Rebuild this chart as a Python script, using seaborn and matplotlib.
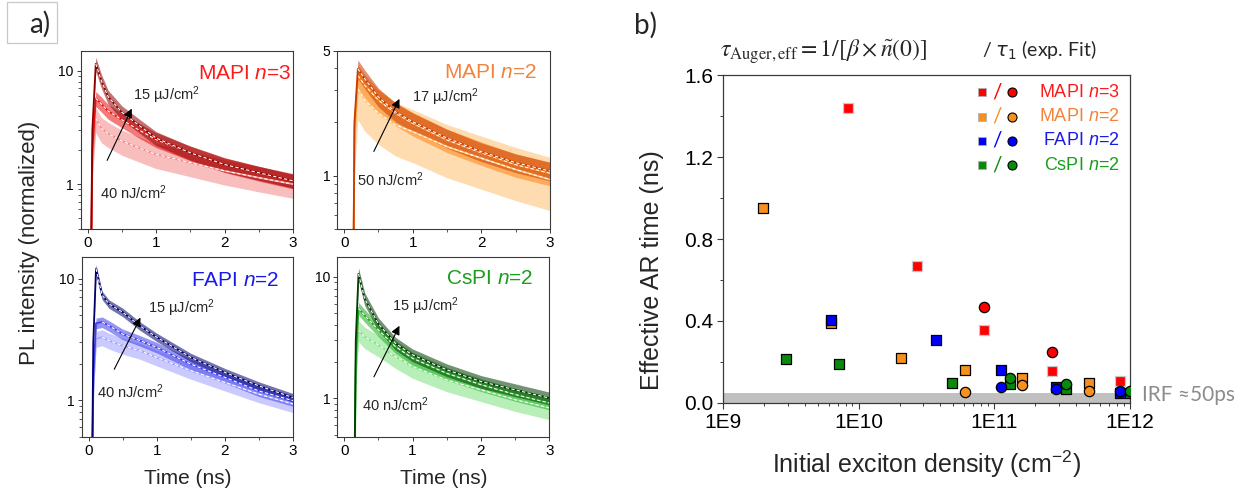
import matplotlib
matplotlib.use('Agg')
import matplotlib.pyplot as plt
import matplotlib.ticker as mticker
from matplotlib.patches import Rectangle
from matplotlib.lines import Line2D
import numpy as np
import pandas as pd
import seaborn as sns

# ---- panel a: PL decays (normalized) ----
T_MAPI3 = [-0.1, 0.04, 0.07, 0.12, 0.2, 0.3, 0.5, 0.75, 1.0, 1.5, 2.0, 2.5, 3.0]
MAPI3_HIGH = [0.05, 0.05, 3.0, 11.5, 8.2, 5.9, 4.3, 3.3, 2.55, 1.89, 1.49, 1.26, 1.07]
MAPI3_MID = [0.05, 0.05, 2.0, 5.7, 5.1, 4.4, 3.7, 3.0, 2.47, 1.89, 1.49, 1.25, 1.07]
MAPI3_LOW = [0.05, 0.05, 1.5, 3.8, 3.1, 2.8, 2.4, 2.09, 1.83, 1.55, 1.31, 1.14, 1.0]

T_MAPI2 = [-0.1, 0.12, 0.15, 0.2, 0.3, 0.5, 0.75, 1.0, 1.5, 2.0, 2.5, 3.0]
MAPI2_HIGH = [0.05, 0.05, 2.0, 3.96, 3.48, 2.75, 2.27, 2.0, 1.62, 1.36, 1.18, 1.06]
MAPI2_MID = [0.05, 0.05, 1.8, 3.63, 3.2, 2.64, 2.23, 1.96, 1.58, 1.34, 1.15, 1.03]
MAPI2_LOW = [0.05, 0.05, 1.5, 3.06, 2.64, 2.23, 1.92, 1.76, 1.45, 1.25, 1.08, 0.95]

T_FAPI = [-0.1, 0.04, 0.07, 0.11, 0.2, 0.3, 0.5, 0.75, 1.0, 1.5, 2.0, 2.5, 3.0]
FAPI_HIGH = [0.05, 0.05, 3.0, 12.1, 7.3, 6.2, 5.3, 4.1, 3.3, 2.25, 1.69, 1.31, 1.05]
FAPI_MID = [0.05, 0.05, 1.5, 4.3, 4.4, 4.1, 3.5, 3.1, 2.72, 1.98, 1.54, 1.19, 0.99]
FAPI_LOW = [0.05, 0.05, 1.2, 3.2, 3.3, 3.1, 2.81, 2.56, 2.25, 1.75, 1.4, 1.12, 0.93]

T_CSPI = [-0.1, 0.14, 0.17, 0.21, 0.3, 0.5, 0.75, 1.0, 1.5, 2.0, 2.5, 3.0]
CSPI_HIGH = [0.05, 0.05, 3.0, 10.6, 6.6, 4.1, 2.83, 2.27, 1.71, 1.37, 1.17, 1.0]
CSPI_MID = [0.05, 0.05, 2.0, 5.5, 4.8, 3.65, 2.66, 2.13, 1.6, 1.29, 1.07, 0.91]
CSPI_LOW = [0.05, 0.05, 1.5, 3.65, 3.2, 2.74, 2.2, 1.82, 1.41, 1.17, 0.97, 0.83]

# relative noise spread of each trace (high, mid, low fluence)
MAPI3_NOISE = [0.14, 0.15, 0.25]
MAPI2_NOISE = [0.12, 0.15, 0.33]
FAPI_NOISE = [0.08, 0.10, 0.15]
CSPI_NOISE = [0.12, 0.12, 0.20]

# ---- panel b: effective AR time vs initial exciton density ----
MAPI3_SQ_X = [8.4e9, 2.67e10, 8.4e10, 2.67e11, 8.4e11]
MAPI3_SQ_Y = [1.44, 0.668, 0.356, 0.156, 0.109]
MAPI3_CI_X = [8.4e10, 2.67e11]
MAPI3_CI_Y = [0.47, 0.247]

MAPI2_SQ_X = [1.98e9, 6.3e9, 2.04e10, 6.07e10, 1.59e11, 5.0e11]
MAPI2_SQ_Y = [0.953, 0.389, 0.221, 0.161, 0.12, 0.096]
MAPI2_CI_X = [6.07e10, 1.59e11, 5.0e11]
MAPI2_CI_Y = [0.052, 0.088, 0.06]

FAPI_SQ_X = [6.25e9, 3.72e10, 1.12e11, 2.84e11, 8.43e11]
FAPI_SQ_Y = [0.405, 0.307, 0.161, 0.08, 0.05]
FAPI_CI_X = [1.12e11, 2.84e11, 8.43e11]
FAPI_CI_Y = [0.08, 0.067, 0.059]

CSPI_SQ_X = [2.9e9, 7.2e9, 4.84e10, 1.30e11, 3.35e11, 1.0e12]
CSPI_SQ_Y = [0.216, 0.19, 0.099, 0.093, 0.067, 0.05]
CSPI_CI_X = [1.30e11, 3.35e11, 1.0e12]
CSPI_CI_Y = [0.12, 0.093, 0.059]

IRF_NS = 0.05

sns.set_style('ticks')
plt.rcParams['font.family'] = ['Liberation Sans', 'DejaVu Sans']
plt.rcParams['mathtext.fontset'] = 'custom'
plt.rcParams['mathtext.rm'] = 'Liberation Sans'
plt.rcParams['mathtext.it'] = 'Liberation Sans:italic'
plt.rcParams['axes.edgecolor'] = '#3a3a3a'
plt.rcParams['xtick.color'] = '#3a3a3a'
plt.rcParams['ytick.color'] = '#3a3a3a'
plt.rcParams['xtick.labelcolor'] = 'black'
plt.rcParams['ytick.labelcolor'] = 'black'

W, H = 1247, 498
fig = plt.figure(figsize=(W / 100, H / 100), dpi=100)


def fig_box(left, top, right, bottom):
    return [left / W, 1 - bottom / H, (right - left) / W, (bottom - top) / H]


CALIBRI = ['Lato', 'DejaVu Sans']

panels = [
    dict(box=fig_box(80.7, 50.7, 293, 229.3), t=T_MAPI3,
         traces=[MAPI3_LOW, MAPI3_MID, MAPI3_HIGH], noise=MAPI3_NOISE[::-1],
         colors=['#f48a8a', '#e81010', '#8c0000'], ylim=(0.4, 15), yt=[1, 10],
         title='MAPI $\\it{n}$=3', tcol='#ff1a1a', tpos=(0.99, 0.875),
         hi='15 µJ/cm$^2$', lo='40 nJ/cm$^2$', hipos=(0.246, 0.752), lopos=(0.091, 0.203),
         arrow=((0.119, 0.372), (0.246, 0.690)), xlab=False),
    dict(box=fig_box(337.3, 50.7, 550, 229.3), t=T_MAPI2,
         traces=[MAPI2_LOW, MAPI2_MID, MAPI2_HIGH], noise=MAPI2_NOISE[::-1],
         colors=['#ffbf70', '#ff8418', '#c83c00'], ylim=(0.5, 5), yt=[1, 5],
         title='MAPI $\\it{n}$=2', tcol='#f4823a', tpos=(0.94, 0.878),
         hi='17 µJ/cm$^2$', lo='50 nJ/cm$^2$', hipos=(0.351, 0.741), lopos=(0.093, 0.276),
         arrow=((0.166, 0.422), (0.298, 0.744)), xlab=False),
    dict(box=fig_box(81.7, 257.3, 293, 436.7), t=T_FAPI,
         traces=[FAPI_LOW, FAPI_MID, FAPI_HIGH], noise=FAPI_NOISE[::-1],
         colors=['#a0a0ff', '#4040e8', '#00006e'], ylim=(0.5, 15), yt=[1, 10],
         title='FAPI $\\it{n}$=2', tcol='#1a1ae8', tpos=(0.938, 0.873),
         hi='15 µJ/cm$^2$', lo='40 nJ/cm$^2$', hipos=(0.314, 0.717), lopos=(0.072, 0.251),
         arrow=((0.148, 0.362), (0.284, 0.678)), xlab=True),
    dict(box=fig_box(337.3, 257.3, 549.3, 436.7), t=T_CSPI,
         traces=[CSPI_LOW, CSPI_MID, CSPI_HIGH], noise=CSPI_NOISE[::-1],
         colors=['#7fe07f', '#22a822', '#003c00'], ylim=(0.48, 14.5), yt=[1, 10],
         title='CsPI $\\it{n}$=2', tcol='#1a9e1a', tpos=(0.923, 0.884),
         hi='15 µJ/cm$^2$', lo='40 nJ/cm$^2$', hipos=(0.258, 0.725), lopos=(0.117, 0.177),
         arrow=((0.167, 0.320), (0.299, 0.632)), xlab=True),
]

for p in panels:
    ax = fig.add_axes(p['box'])
    t = np.array(p['t'])
    for vals, nz, col in zip(p['traces'], p['noise'], p['colors']):
        v = np.array(vals)
        ax.fill_between(t, v * (1 - nz), v * (1 + nz), color=col, alpha=0.55, lw=0)
        sns.lineplot(x=t, y=v, ax=ax, color=col, lw=1.3)
        k = int(np.argmax(v))
        sns.lineplot(x=t[k:], y=v[k:], ax=ax, color='white', lw=0.8, linestyle=(0, (3, 2)))
    ax.set_yscale('log')
    ax.set_xlim(-0.1, 3)
    ax.set_ylim(*p['ylim'])
    ax.set_xticks([0, 1, 2, 3])
    ax.xaxis.set_minor_locator(mticker.MultipleLocator(0.5))
    ax.yaxis.set_major_locator(mticker.FixedLocator(p['yt']))
    ax.yaxis.set_major_formatter(mticker.FixedFormatter([str(v) for v in p['yt']]))
    ax.yaxis.set_minor_locator(mticker.LogLocator(subs=np.arange(2, 10)))
    ax.yaxis.set_minor_formatter(mticker.NullFormatter())
    ax.tick_params(axis='x', labelsize=11, length=3, width=0.7, pad=2)
    ax.tick_params(axis='y', labelsize=10, length=3, width=0.7, pad=2)
    ax.tick_params(which='minor', length=2, width=0.6)
    for s in ax.spines.values():
        s.set_linewidth(0.8)
    ax.set_ylabel('')
    ax.set_xlabel('Time (ns)' if p['xlab'] else '', fontsize=15, labelpad=8)
    ax.text(p['tpos'][0], p['tpos'][1], p['title'], transform=ax.transAxes,
            ha='right', va='center', fontsize=15, color=p['tcol'])
    ax.text(p['hipos'][0], p['hipos'][1], p['hi'], transform=ax.transAxes,
            ha='left', va='center', fontsize=10.5)
    ax.text(p['lopos'][0], p['lopos'][1], p['lo'], transform=ax.transAxes,
            ha='left', va='center', fontsize=10.5)
    ax.annotate('', xy=p['arrow'][1], xytext=p['arrow'][0], xycoords='axes fraction',
                arrowprops=dict(arrowstyle='-|>', color='black', lw=0.8, mutation_scale=13))

fig.text(30 / W, 1 - 243 / H, 'PL intensity (normalized)', rotation=90,
         ha='center', va='center', fontsize=16)

# a) box label
fig.add_artist(Rectangle((7 / W, 1 - 43 / H), 50 / W, 41 / H, transform=fig.transFigure,
                         fill=False, ec='#c8c8c8', lw=0.9))
fig.text(40 / W, 1 - 24 / H, 'a)', ha='center', va='center', fontsize=20, family=CALIBRI)
fig.text(646 / W, 1 - 25 / H, 'b)', ha='center', va='center', fontsize=20, family=CALIBRI)

# ---- panel b ----
axb = fig.add_axes(fig_box(723, 75, 1130, 403))
samples = [
    ('MAPI $\\it{n}$=3', '#ff0000', '#ff1a1a', MAPI3_SQ_X, MAPI3_SQ_Y, MAPI3_CI_X, MAPI3_CI_Y, '#c8c8c8'),
    ('MAPI $\\it{n}$=2', '#f7901e', '#f4823a', MAPI2_SQ_X, MAPI2_SQ_Y, MAPI2_CI_X, MAPI2_CI_Y, 'black'),
    ('FAPI $\\it{n}$=2', '#0000ff', '#1a1ae8', FAPI_SQ_X, FAPI_SQ_Y, FAPI_CI_X, FAPI_CI_Y, 'black'),
    ('CsPI $\\it{n}$=2', '#0a8a0a', '#1a9e1a', CSPI_SQ_X, CSPI_SQ_Y, CSPI_CI_X, CSPI_CI_Y, 'black'),
]

axb.axhspan(0, IRF_NS, color='#c0c0c0', lw=0, zorder=0)
for name, col, tcol, sx, sy, cx, cy, sqedge in samples:
    sns.scatterplot(x=sx, y=sy, ax=axb, marker='s', s=44, color=col,
                    edgecolor=sqedge, linewidth=0.9, zorder=3)
for name, col, tcol, sx, sy, cx, cy, sqedge in samples:
    sns.scatterplot(x=cx, y=cy, ax=axb, marker='o', s=55, color=col,
                    edgecolor='black', linewidth=0.9, zorder=4)

axb.set_xscale('log')
axb.set_xlim(1e9, 1e12)
axb.set_ylim(0, 1.6)
axb.set_xticks([1e9, 1e10, 1e11, 1e12])
axb.set_xticklabels(['1E9', '1E10', '1E11', '1E12'])
axb.xaxis.set_minor_locator(mticker.LogLocator(subs=np.arange(2, 10)))
axb.xaxis.set_minor_formatter(mticker.NullFormatter())
axb.set_yticks([0, 0.4, 0.8, 1.2, 1.6])
axb.set_yticklabels(['0.0', '0.4', '0.8', '1.2', '1.6'])
axb.yaxis.set_minor_locator(mticker.MultipleLocator(0.2))
axb.tick_params(labelsize=15, length=4, width=0.8, pad=3)
axb.tick_params(which='minor', length=2.5, width=0.7)
for s in axb.spines.values():
    s.set_linewidth(0.9)
axb.set_xlabel('Initial exciton density (cm$^{-2}$)', fontsize=18, labelpad=12)
axb.set_ylabel('')
fig.text(652 / W, 1 - 270 / H, 'Effective AR time (ns)', rotation=90,
         ha='center', va='center', fontsize=18)

axb.text(1.03, 0.024, 'IRF ≈50ps', transform=axb.transAxes, ha='left', va='center',
         fontsize=15, color='#8c8c8c', family=CALIBRI)

axb.text(-0.007, 1.07, r'$\tau_{\mathrm{Auger,eff}} = 1/[\beta \times \tilde{n}(0)]$',
         transform=axb.transAxes, ha='left', va='center', fontsize=17, math_fontfamily='stix')
axb.text(0.636, 1.075, '/ $\\tau_1$ (exp. Fit)', transform=axb.transAxes, ha='left',
         va='center', fontsize=14, family=CALIBRI, math_fontfamily='dejavusans')

# legend drawn by hand: square / circle   label
leg_y = [0.947, 0.873, 0.800, 0.725]
for (name, col, tcol, sx, sy, cx, cy, sqedge), yy in zip(samples, leg_y):
    axb.add_line(Line2D([0.637], [yy], transform=axb.transAxes, marker='s', ms=6,
                        color=col, mec='#b0b0b0', mew=0.6, ls='none'))
    axb.text(0.674, yy, '/', transform=axb.transAxes, ha='center', va='center',
             fontsize=15, color=col, family=CALIBRI)
    axb.add_line(Line2D([0.710], [yy], transform=axb.transAxes, marker='o', ms=6.5,
                        color=col, mec='black', mew=0.8, ls='none'))
    axb.text(0.974, yy, name, transform=axb.transAxes, ha='right', va='center',
             fontsize=13, color=tcol)

fig.savefig('out.png', dpi=100)
